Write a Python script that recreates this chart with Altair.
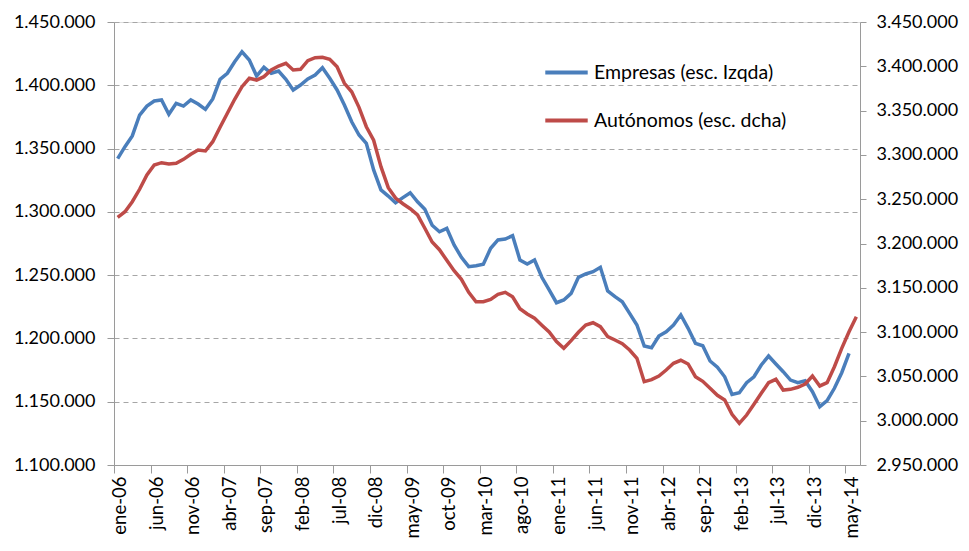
import json
import altair as alt
import pandas as pd

# ---- data ----
MONTHS_ES = ["ene", "feb", "mar", "abr", "may", "jun", "jul", "ago", "sep", "oct", "nov", "dic"]
START_YEAR = 2006
N_CAT = 102  # ene-06 .. jun-14

S_EMP = "Empresas (esc. Izqda)"
S_AUT = "Autónomos (esc. dcha)"

empresas = [
    1342000, 1351500, 1360000, 1376500, 1383600, 1387600, 1388400, 1377100, 1385800, 1383600,
    1388400, 1385200, 1381000, 1389200, 1404700, 1409500, 1418600, 1426500, 1420000, 1407300,
    1414200, 1409500, 1411300, 1404700, 1396300, 1400200, 1405000, 1408100, 1413900, 1405500,
    1396300, 1384400, 1371200, 1360700, 1354200, 1333100, 1317300, 1312500, 1307200, 1311200,
    1315100, 1308000, 1302000, 1289400, 1284300, 1287000, 1273800, 1264100, 1256700, 1257500,
    1258600, 1271200, 1277800, 1278500, 1281200, 1262000, 1258800, 1262000, 1248300, 1238300,
    1228200, 1230400, 1235600, 1248300, 1250900, 1252700, 1256200, 1237500, 1233000, 1229000,
    1219800, 1210600, 1194000, 1192700, 1201900, 1205300, 1210600, 1218500, 1208000, 1196100,
    1194200, 1182200, 1177200, 1169700, 1155800, 1157100, 1165000, 1169700, 1179000, 1186100,
    1179800, 1173700, 1167100, 1165000, 1166600, 1157900, 1146100, 1150800, 1160600, 1172900,
    1188200,
]

autonomos = [
    3229600, 3235900, 3247200, 3261200, 3277300, 3288600, 3291200, 3289700, 3290500, 3295000,
    3300700, 3305500, 3304400, 3314900, 3331200, 3347000, 3362800, 3377000, 3386500, 3384500,
    3388300, 3395800, 3400300, 3403400, 3395800, 3396600, 3406300, 3409700, 3410200, 3407900,
    3399500, 3380800, 3371300, 3353700, 3331800, 3316500, 3286700, 3263000, 3251300, 3244900,
    3239300, 3232200, 3217200, 3201700, 3193000, 3181000, 3169300, 3159600, 3144900, 3134300,
    3134300, 3137000, 3142700, 3144900, 3139900, 3126400, 3120400, 3115600, 3107700, 3100100,
    3089200, 3081700, 3090300, 3099800, 3108000, 3110600, 3106100, 3095000, 3091100, 3086900,
    3079800, 3070400, 3044000, 3046300, 3050400, 3057200, 3064800, 3068200, 3064000, 3049700,
    3044500, 3036600, 3028700, 3023400, 3007200, 2997000, 3006400, 3018500, 3030900, 3042900,
    3046700, 3034600, 3035400, 3037700, 3041400, 3050400, 3039200, 3042900, 3060900, 3081700,
    3100400, 3117400,
]

month_labels = [f"{MONTHS_ES[i % 12]}-{(START_YEAR + i // 12) % 100:02d}" for i in range(N_CAT)]
tick_idx = list(range(0, 101, 5))
left_ticks = list(range(1100000, 1450001, 50000))
right_ticks = list(range(2950000, 3450001, 50000))

rows = [{"idx": i, "series": S_EMP, "value": v} for i, v in enumerate(empresas)]
rows += [{"idx": i, "series": S_AUT, "value": v} for i, v in enumerate(autonomos)]
df = pd.DataFrame(rows)

FONT = "Lato"
GRAY = "#9a9a9a"
BLUE = "#4a7ebb"
RED = "#be4b48"

W, H = 746, 443
half_cat = W / N_CAT / 2

label_arr = json.dumps(month_labels)
x_enc = alt.X(
    "idx:Q",
    scale=alt.Scale(domain=[-0.5, N_CAT - 0.5], nice=False, zero=False),
    axis=alt.Axis(
        values=tick_idx,
        labelExpr=f"{label_arr}[datum.value]",
        labelAngle=270,
        labelAlign="right",
        labelBaseline="middle",
        labelFont=FONT,
        labelFontSize=18.5,
        labelColor="#000000",
        labelPadding=3,
        labelOffset=half_cat + 2,
        tickOffset=-half_cat,
        tickSize=8,
        tickColor=GRAY,
        domainColor=GRAY,
        grid=False,
        title=None,
        labelOverlap=False,
    ),
)

num_expr = "replace(format(datum.value, ',d'), regexp(',', 'g'), '.')"

color_enc = alt.Color(
    "series:N",
    scale=alt.Scale(domain=[S_EMP, S_AUT], range=[BLUE, RED]),
    legend=alt.Legend(
        title=None,
        orient="none",
        legendX=429,
        legendY=27,
        symbolType="stroke",
        symbolSize=1800,
        symbolStrokeWidth=4,
        labelFont=FONT,
        labelFontSize=19.5,
        labelColor="#000000",
        labelOffset=4,
        labelLimit=400,
        rowPadding=15,
    ),
)

left = alt.Chart(df).transform_filter(
    alt.datum.series == S_EMP
).mark_line(strokeWidth=3.5).encode(
    x=x_enc,
    y=alt.Y(
        "value:Q",
        scale=alt.Scale(domain=[1100000, 1450000], nice=False, zero=False),
        axis=alt.Axis(
            orient="left",
            values=left_ticks,
            labelExpr=num_expr,
            labelFont=FONT,
            labelFontSize=18,
            labelColor="#000000",
            labelPadding=12,
            tickSize=7,
            tickColor=GRAY,
            domainColor=GRAY,
            grid=True,
            gridColor="#a6a6a6",
            gridDash=[5, 4],
            gridWidth=1,
            title=None,
        ),
    ),
    color=color_enc,
)

right = alt.Chart(df).transform_filter(
    alt.datum.series == S_AUT
).mark_line(strokeWidth=3.5).encode(
    x=x_enc,
    y=alt.Y(
        "value:Q",
        scale=alt.Scale(domain=[2950000, 3450000], nice=False, zero=False),
        axis=alt.Axis(
            orient="right",
            values=right_ticks,
            labelExpr=num_expr,
            labelFont=FONT,
            labelFontSize=18,
            labelColor="#000000",
            labelPadding=10,
            tickSize=6,
            tickColor=GRAY,
            domainColor=GRAY,
            grid=False,
            title=None,
        ),
    ),
    color=color_enc,
)

chart = alt.layer(left, right).resolve_scale(y="independent").properties(
    width=W,
    height=H,
    autosize=alt.AutoSizeParams(type="none"),
    padding={"left": 106, "top": 14, "right": 100, "bottom": 80},
).configure_view(stroke=None).configure(background="white")

chart.save("out.html", embed_options={"renderer": "svg", "actions": False})
